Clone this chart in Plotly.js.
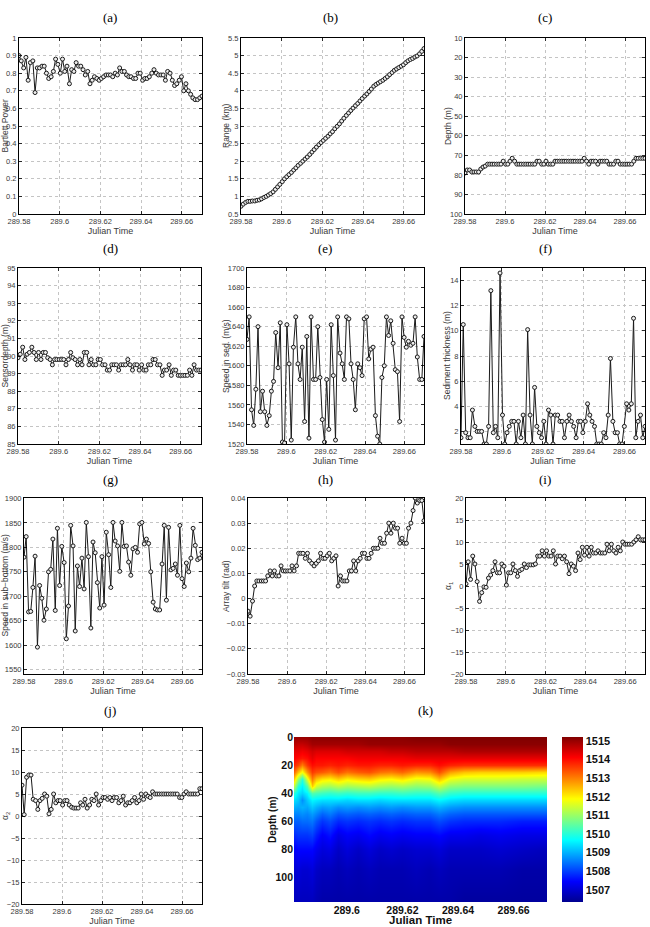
<!DOCTYPE html>
<html><head><meta charset="utf-8">
<script src="https://cdn.plot.ly/plotly-3.0.1.min.js"></script>
<style>html,body{margin:0;padding:0;background:#fff}#chart{width:650px;height:927px}</style>
</head><body><div id="chart"></div>
<script>
// ---------------- DATA ----------------
const julianTime = [289.5800,289.5811,289.5823,289.5834,289.5845,289.5856,289.5868,289.5879,289.5890,289.5901,
 289.5913,289.5924,289.5935,289.5946,289.5958,289.5969,289.5980,289.5991,289.6003,289.6014,
 289.6025,289.6036,289.6048,289.6059,289.6070,289.6081,289.6093,289.6104,289.6115,289.6126,
 289.6138,289.6149,289.6160,289.6171,289.6183,289.6194,289.6205,289.6216,289.6228,289.6239,
 289.6250,289.6261,289.6273,289.6284,289.6295,289.6306,289.6318,289.6329,289.6340,289.6351,
 289.6363,289.6374,289.6385,289.6396,289.6408,289.6419,289.6430,289.6441,289.6453,289.6464,
 289.6475,289.6486,289.6498,289.6509,289.6520,289.6531,289.6543,289.6554,289.6565,289.6576,
 289.6588,289.6599,289.6610,289.6621,289.6633,289.6644,289.6655,289.6666,289.6678,289.6689,289.6700];

const bartlettPower = [0.90,0.87,0.83,0.89,0.76,0.86,0.87,0.69,0.83,0.83,
 0.84,0.84,0.80,0.77,0.78,0.81,0.88,0.85,0.80,0.88,
 0.81,0.84,0.74,0.82,0.81,0.86,0.84,0.84,0.82,0.79,
 0.81,0.74,0.76,0.78,0.77,0.76,0.77,0.78,0.79,0.79,
 0.79,0.78,0.80,0.79,0.83,0.81,0.81,0.79,0.78,0.78,
 0.77,0.77,0.80,0.80,0.76,0.77,0.77,0.78,0.80,0.82,
 0.80,0.79,0.79,0.79,0.76,0.81,0.80,0.76,0.73,0.74,
 0.76,0.78,0.70,0.74,0.70,0.68,0.66,0.65,0.65,0.66,0.67];

const rangeKm = [0.72,0.78,0.83,0.86,0.86,0.87,0.87,0.89,0.90,0.93,
 0.97,1.00,1.04,1.08,1.13,1.20,1.27,1.34,1.42,1.50,
 1.56,1.62,1.68,1.75,1.81,1.88,1.94,2.00,2.06,2.12,
 2.19,2.26,2.33,2.40,2.47,2.53,2.59,2.65,2.71,2.78,
 2.84,2.92,2.99,3.06,3.14,3.22,3.30,3.37,3.44,3.51,
 3.58,3.64,3.71,3.78,3.85,3.91,3.98,4.05,4.13,4.18,
 4.22,4.26,4.30,4.35,4.40,4.46,4.52,4.58,4.62,4.66,
 4.70,4.74,4.80,4.85,4.89,4.92,4.96,4.99,5.05,5.12,5.20];

const sourceDepth = [79,77.5,77.5,78.5,78.5,78.5,78.5,77,76,75.5,
 74.5,74.5,74.5,74.5,74.5,74.5,74.5,73,74.5,74.5,
 73,71.5,73,74.5,74.5,74.5,74.5,74.5,74.5,74.5,
 74.5,74.5,73,73,74.5,74.5,73,74.5,74.5,74.5,
 73,73,73,73,73,73,73,73,73,73,
 73,73,73,71.5,73,74.5,73,73,73,74.5,
 73,73,73,73,74.5,74.5,74.5,73,73,74.5,
 74.5,74.5,74.5,74.5,74.5,73,71.5,71.5,71.5,71.5,71.5];

const sensorDepth = [89.9,90.1,90.5,89.8,90.1,90.2,90.5,90.2,89.8,90.2,
 89.8,90.2,90.2,89.9,89.8,89.5,89.8,89.8,89.8,89.8,
 89.8,89.5,89.8,90.2,89.9,89.8,89.5,89.8,89.5,90.2,
 90.2,89.5,89.8,89.5,89.5,89.8,89.8,89.5,89.5,89.2,
 89.2,89.5,89.5,89.5,89.2,89.5,89.5,89.5,89.8,89.5,
 89.2,89.5,89.5,89.2,89.5,89.2,89.2,89.5,89.5,89.8,
 89.8,89.5,89.5,88.9,89.2,89.2,89.5,88.9,89.2,89.2,
 88.9,88.9,88.9,88.9,88.9,89.2,88.9,89.5,89.2,89.2,89.2];

const speedSediment = [1627,1650,1555,1539,1576,1640,1553,1574,1553,1539,
 1549,1574,1584,1634,1598,1644,1522,1521,1642,1602,
 1524,1619,1650,1602,1586,1619,1543,1630,1526,1650,
 1586,1586,1640,1588,1545,1522,1586,1535,1642,1590,
 1524,1650,1613,1602,1586,1650,1648,1602,1586,1555,
 1602,1598,1590,1648,1650,1607,1617,1619,1549,1528,
 1520,1588,1600,1650,1631,1646,1623,1596,1594,1543,
 1650,1629,1619,1625,1621,1623,1650,1609,1586,1586,1630];

const sedimentThickness = [1.5,10.5,1.9,1.5,1.5,3.7,2.4,2.0,2.0,2.0,
 1.0,1.0,2.4,13.2,1.9,2.4,1.5,14.6,3.3,1.0,
 1.9,2.4,2.8,2.8,1.0,2.8,1.5,3.3,1.0,10.1,
 3.3,1.0,5.5,2.4,1.9,1.5,2.8,1.0,3.7,3.3,
 1.0,3.3,3.3,2.8,2.8,1.5,2.8,3.3,2.8,2.4,
 1.5,2.8,2.8,1.9,2.8,4.2,3.3,2.8,2.4,1.0,
 1.0,1.0,1.9,1.5,3.3,7.8,2.8,1.9,1.9,1.0,
 1.0,2.4,4.2,3.7,4.2,11.0,1.5,2.8,3.3,1.5,2.4];

const speedSubBottom = [1780,1822,1668,1669,1718,1782,1596,1722,1696,1651,
 1674,1750,1755,1817,1671,1839,1722,1802,1769,1613,
 1680,1845,1803,1629,1762,1720,1778,1715,1851,1781,
 1635,1811,1789,1728,1676,1781,1682,1831,1785,1718,
 1851,1813,1803,1751,1851,1802,1803,1770,1743,1797,
 1800,1790,1848,1851,1807,1817,1808,1750,1688,1674,
 1672,1672,1766,1845,1692,1841,1754,1757,1766,1743,
 1845,1736,1720,1768,1750,1778,1839,1804,1775,1778,1790];

const arrayTilt = [-0.005,-0.007,-0.001,0.005,0.007,0.007,0.007,0.007,0.007,0.009,
 0.011,0.009,0.011,0.009,0.009,0.013,0.011,0.011,0.011,0.011,
 0.013,0.011,0.013,0.018,0.018,0.018,0.016,0.018,0.015,0.014,
 0.013,0.014,0.015,0.018,0.016,0.016,0.017,0.018,0.015,0.016,
 0.017,0.005,0.009,0.007,0.007,0.007,0.011,0.011,0.015,0.011,
 0.015,0.016,0.018,0.018,0.016,0.016,0.018,0.020,0.020,0.020,
 0.024,0.022,0.022,0.026,0.030,0.026,0.030,0.028,0.028,0.022,
 0.024,0.022,0.022,0.028,0.030,0.035,0.040,0.038,0.039,0.039,0.031];

const alpha1 = [0.5,5.5,1.5,6.8,5.0,1.0,-3.5,-1.5,-0.2,-0.3,
 1.8,2.5,3.5,5.5,3.0,3.0,5.0,4.5,0.2,3.0,
 3.0,5.0,3.5,2.2,3.5,3.8,5.0,4.2,4.8,4.8,
 4.8,5.0,6.8,6.8,8.0,6.8,8.0,6.8,6.8,8.0,
 5.0,6.8,6.8,6.2,6.8,5.5,2.8,5.0,4.5,3.5,
 7.5,6.0,8.8,7.0,8.8,6.8,8.8,7.5,7.5,8.0,
 7.5,7.5,7.5,9.5,8.0,9.5,8.0,7.5,8.8,8.0,
 10.0,9.5,9.5,9.5,9.5,10.0,10.5,11.2,10.5,10.5,10.5];

const alpha2 = [7.0,0.3,8.8,9.3,9.3,3.8,3.5,1.5,3.5,4.0,
 5.0,4.5,0.5,1.5,5.0,3.0,3.5,3.5,2.5,3.5,
 3.5,2.5,2.0,1.8,1.8,1.8,3.0,2.5,3.8,1.8,
 2.5,3.8,3.5,5.0,2.5,3.5,4.2,4.2,3.8,4.2,
 3.5,4.2,4.2,3.0,3.5,4.5,2.5,3.0,3.0,3.5,
 4.2,3.0,3.5,5.0,3.8,5.0,4.5,4.2,5.5,5.0,
 5.0,5.0,5.0,5.0,5.0,5.0,5.0,5.0,5.0,5.0,
 4.2,4.2,5.0,5.5,5.0,5.0,5.0,5.0,5.0,6.2,6.2];

const julianTicks = [289.58, 289.6, 289.62, 289.64, 289.66];
const julianTickText = ['289.58', '289.6', '289.62', '289.64', '289.66'];

// Sound-speed field (panel k)
const sspTime = [289.581,289.5825,289.584,289.5855,289.5875,289.589,289.591,289.594,289.597,289.600,
 289.604,289.608,289.612,289.616,289.620,289.625,289.630,289.633,289.637,289.642,289.648,289.655,289.663,289.672];
const sspDepth = [0,5,10,15,20,25,30,35,40,45,50,55,60,70,80,95,118];
const sspSpeed = [
 [1515.0,1514.7,1514.3,1514.1,1513.8,1513.2,1512.3,1511.3,1510.0,1509.4,1509.0,1508.6,1508.3,1507.8,1507.4,1507.0,1506.8],
 [1515.0,1514.6,1514.3,1514.0,1513.5,1512.4,1511.0,1510.0,1509.5,1509.2,1508.9,1508.6,1508.3,1507.9,1507.5,1507.1,1506.8],
 [1515.0,1514.6,1514.2,1513.9,1513.0,1511.8,1510.0,1509.6,1509.3,1508.7,1509.0,1508.7,1508.4,1507.9,1507.5,1507.0,1506.8],
 [1515.0,1514.7,1514.3,1514.0,1513.6,1512.8,1511.6,1510.4,1509.6,1509.2,1508.9,1508.6,1508.4,1507.9,1507.5,1507.0,1506.8],
 [1515.1,1514.9,1514.5,1514.3,1514.0,1513.6,1513.0,1512.3,1510.4,1509.6,1509.2,1508.8,1508.5,1508.0,1507.5,1507.1,1506.8],
 [1515.1,1514.9,1514.4,1514.1,1513.9,1513.4,1512.4,1511.5,1510.3,1509.5,1509.0,1508.6,1508.2,1507.7,1507.3,1506.9,1506.7],
 [1515.1,1514.9,1514.4,1514.1,1513.9,1513.3,1512.1,1511.2,1510.2,1509.4,1508.8,1508.3,1507.9,1507.4,1507.1,1506.8,1506.6],
 [1515.1,1514.9,1514.4,1514.1,1513.8,1513.1,1512.0,1511.1,1510.1,1509.4,1508.9,1508.5,1508.1,1507.6,1507.2,1506.8,1506.6],
 [1515.1,1514.9,1514.4,1514.1,1513.9,1513.4,1512.3,1511.3,1510.2,1509.4,1508.7,1508.2,1507.8,1507.2,1506.9,1506.7,1506.6],
 [1515.1,1514.9,1514.5,1514.1,1513.8,1513.1,1512.0,1511.1,1510.1,1509.3,1508.8,1508.3,1507.9,1507.4,1507.1,1506.8,1506.6],
 [1515.1,1514.9,1514.5,1514.2,1513.9,1513.3,1512.2,1511.2,1510.2,1509.4,1508.7,1508.2,1507.8,1507.3,1506.9,1506.7,1506.6],
 [1515.1,1515.0,1514.5,1514.2,1513.9,1513.4,1512.3,1511.3,1510.2,1509.4,1508.8,1508.3,1507.9,1507.5,1507.1,1506.8,1506.6],
 [1515.1,1515.0,1514.5,1514.2,1513.8,1513.1,1512.0,1511.1,1510.1,1509.3,1508.7,1508.2,1507.8,1507.3,1506.9,1506.7,1506.6],
 [1515.1,1515.0,1514.6,1514.2,1513.8,1513.0,1511.9,1511.0,1510.1,1509.4,1508.8,1508.3,1507.9,1507.4,1507.0,1506.7,1506.6],
 [1515.1,1515.0,1514.6,1514.2,1513.9,1513.2,1512.1,1511.1,1510.2,1509.4,1508.7,1508.2,1507.8,1507.3,1506.9,1506.7,1506.6],
 [1515.2,1515.0,1514.7,1514.3,1513.8,1512.8,1511.7,1510.9,1510.1,1509.4,1508.8,1508.3,1507.9,1507.4,1507.0,1506.8,1506.6],
 [1515.2,1515.0,1514.7,1514.3,1513.8,1512.9,1511.8,1511.0,1510.1,1509.4,1508.8,1508.3,1507.9,1507.4,1507.0,1506.7,1506.6],
 [1515.2,1515.0,1514.7,1514.3,1514.0,1513.4,1512.4,1511.4,1510.4,1509.6,1509.0,1508.5,1508.1,1507.5,1507.1,1506.8,1506.6],
 [1515.2,1515.1,1514.7,1514.3,1513.8,1512.7,1511.7,1510.9,1510.1,1509.4,1508.8,1508.3,1507.9,1507.3,1506.9,1506.7,1506.6],
 [1515.2,1515.1,1514.8,1514.3,1513.7,1512.4,1511.5,1510.8,1510.0,1509.3,1508.7,1508.2,1507.8,1507.3,1506.9,1506.7,1506.5],
 [1515.2,1515.1,1514.8,1514.3,1513.7,1512.3,1511.5,1510.8,1510.0,1509.3,1508.7,1508.2,1507.8,1507.2,1506.9,1506.7,1506.5],
 [1515.2,1515.1,1514.8,1514.3,1513.7,1512.3,1511.5,1510.8,1510.0,1509.3,1508.7,1508.2,1507.8,1507.3,1507.0,1506.7,1506.5],
 [1515.2,1515.1,1514.8,1514.3,1513.7,1512.3,1511.4,1510.8,1510.0,1509.3,1508.7,1508.2,1507.7,1507.2,1506.9,1506.6,1506.5],
 [1515.2,1515.1,1514.8,1514.3,1513.7,1512.2,1511.4,1510.7,1510.0,1509.3,1508.7,1508.2,1507.7,1507.2,1506.8,1506.6,1506.5]
];
const colorbarTicks = [1507,1508,1509,1510,1511,1512,1513,1514,1515];

const panelLabels = ['(a)','(b)','(c)','(d)','(e)','(f)','(g)','(h)','(i)','(j)','(k)'];
const yTitles = ['Bartlett Power','Range (km)','Depth (m)','Sensordepth (m)','Speed in sed. (m/s)',
 'Sediment thickness (m)','Speed in sub\u2212bottom (m/s)','Array tilt (rad)','\u03b1<sub>1</sub>','\u03b1<sub>2</sub>'];
const series = [bartlettPower, rangeKm, sourceDepth, sensorDepth, speedSediment,
 sedimentThickness, speedSubBottom, arrayTilt, alpha1, alpha2];

// ---------------- LAYOUT (pixels) ----------------
const W = 650, H = 927;
const boxes = [[19,202,38,214],[241,424,38,214],[465,645,38,214],
 [18,201,268,444],[247,424,268,444],[461,645,268,444],
 [24,202,498,674],[248,424,498,674],[466,645,498,674],
 [22,202,728,904]];
const yTitleX = [4.5,226,448,4.5,226,447,4.5,226,448,5];
const yAxisSpec = [
 {range:[0,1], tick0:0, dtick:0.1},
 {range:[0.5,5.5], tick0:0.5, dtick:0.5},
 {range:[100,10], tick0:10, dtick:10},
 {range:[85,95], tick0:85, dtick:1},
 {range:[1520,1700], tick0:1520, dtick:20},
 {range:[1,15], tick0:0, dtick:2},
 {range:[1541,1901], tick0:1550, dtick:50},
 {range:[-0.03,0.04], tick0:0, dtick:0.01},
 {range:[-20,20], tick0:0, dtick:5},
 {range:[-20,20], tick0:0, dtick:5}
];
const labelPos = [[110,18],[330,18],[545,18],[110,248],[325,248],[545,248],[110,480],[325,480],[545,480],[110,710],[425,710]];

const FONT = 'Liberation Sans, Arial, Helvetica, sans-serif';
const NARROW = 'Liberation Sans Narrow, Arial Narrow, Liberation Sans, Arial, sans-serif';
const px2x = v => v / W;
const px2y = v => 1 - v / H;

const common = {
  showline:true, linecolor:'#000', linewidth:1, mirror:'ticks',
  ticks:'inside', ticklen:3, tickcolor:'#000', tickwidth:0.8,
  showgrid:true, gridcolor:'#c4c4c4', griddash:'dot', gridwidth:1,
  zeroline:false, fixedrange:true,
  tickfont:{family:NARROW, size:7.5, color:'#3a3a3a'}
};

const traces = [];
const layout = {
  width:W, height:H, margin:{l:0,r:0,t:0,b:0},
  paper_bgcolor:'#fff', plot_bgcolor:'#fff', showlegend:false,
  font:{family:FONT}, annotations:[]
};

series.forEach((ys, i) => {
  const n = i + 1;
  const xa = 'x' + (n === 1 ? '' : n), ya = 'y' + (n === 1 ? '' : n);
  const b = boxes[i];
  traces.push({
    type:'scatter', mode:'lines+markers', x:julianTime, y:ys,
    xaxis:xa, yaxis:ya,
    line:{color:'#1a1a1a', width:1},
    marker:{symbol:'circle', size:4, color:'#ededed', line:{width:1, color:'#1a1a1a'}},
    hoverinfo:'skip'
  });
  layout['xaxis' + (n === 1 ? '' : n)] = Object.assign({}, common, {
    domain:[px2x(b[0]), px2x(b[1])], anchor:ya,
    range:[289.58, 289.67], tickmode:'array', tickvals:julianTicks, ticktext:julianTickText,
    title:{text:'Julian Time', font:{family:NARROW, size:9, color:'#3a3a3a'}, standoff:2}
  });
  const ys2 = yAxisSpec[i];
  layout['yaxis' + (n === 1 ? '' : n)] = Object.assign({}, common, {
    domain:[px2y(b[3]), px2y(b[2])], anchor:xa,
    range:ys2.range, tick0:ys2.tick0, dtick:ys2.dtick, tickmode:'linear'
  });
  // y-axis title placed as a rotated annotation left of the tick labels
  layout.annotations.push({
    text:yTitles[i], xref:'paper', yref:'paper',
    x:px2x(yTitleX[i]), y:px2y((b[2] + b[3]) / 2), textangle:-90,
    xanchor:'center', yanchor:'middle', showarrow:false,
    font:{family:FONT, size:8.5, color:'#3a3a3a'}
  });
});

// heatmap panel (k)
traces.push({
  type:'heatmap', x:sspTime, y:sspDepth, z:sspSpeed, transpose:true,
  xaxis:'x11', yaxis:'y11', zsmooth:'best', zmin:1506.35, zmax:1515.2,
  colorscale:[[0,'#00008f'],[0.125,'#0000ff'],[0.375,'#00ffff'],[0.625,'#ffff00'],[0.875,'#ff0000'],[1,'#800000']],
  colorbar:{x:px2x(562), xanchor:'left', xpad:0, y:px2y(902), yanchor:'bottom', ypad:0,
    len:165/H, lenmode:'fraction', thickness:21, thicknessmode:'pixels',
    outlinewidth:0, tickmode:'array', tickvals:colorbarTicks, ticks:'',
    tickfont:{family:FONT, size:11, color:'#111', weight:'bold'}},
  hoverinfo:'skip'
});
layout.xaxis11 = {
  domain:[px2x(294), px2x(547)], anchor:'y11', range:[289.581, 289.672],
  tickmode:'array', tickvals:[289.6, 289.62, 289.64, 289.66], ticktext:['289.6','289.62','289.64','289.66'],
  showgrid:false, zeroline:false, showline:false, ticks:'', fixedrange:true,
  tickfont:{family:FONT, size:10.5, color:'#111', weight:'bold'}
};
layout.yaxis11 = {
  domain:[px2y(902), px2y(737)], anchor:'x11', range:[117.5, 0],
  tickmode:'linear', tick0:0, dtick:20,
  showgrid:false, zeroline:false, showline:false, ticks:'', fixedrange:true,
  tickfont:{family:FONT, size:10.5, color:'#111', weight:'bold'}
};
layout.annotations.push({
  text:'Julian Time', xref:'paper', yref:'paper', x:px2x(420), y:px2y(920),
  xanchor:'center', yanchor:'middle', showarrow:false,
  font:{family:FONT, size:11.5, color:'#111', weight:'bold'}
});
layout.annotations.push({
  text:'Depth (m)', xref:'paper', yref:'paper', x:px2x(272), y:px2y(820), textangle:-90,
  xanchor:'center', yanchor:'middle', showarrow:false,
  font:{family:FONT, size:10, color:'#111', weight:'bold'}
});

panelLabels.forEach((t, i) => {
  layout.annotations.push({
    text:t, xref:'paper', yref:'paper', x:px2x(labelPos[i][0]), y:px2y(labelPos[i][1]),
    xanchor:'center', yanchor:'middle', showarrow:false,
    font:{family:'Liberation Serif, DejaVu Serif, serif', size:13, color:'#000'}
  });
});

Plotly.newPlot('chart', traces, layout, {staticPlot:true, displayModeBar:false});
</script>
</body></html>
